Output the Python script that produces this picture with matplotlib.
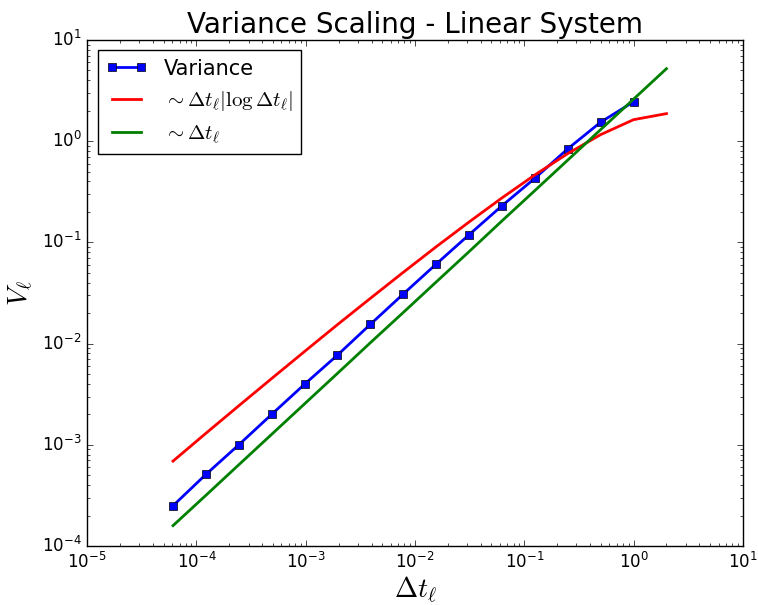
import numpy as np
import matplotlib
matplotlib.use('Agg')
from matplotlib import pyplot as plt

plt.style.use('classic')
plt.rcParams['mathtext.fontset'] = 'cm'

# time steps dt_l = 2^-l
levels = np.arange(14, -1, -1)
dt = 2.0 ** (-levels)
variance = [2.5e-4, 5.1e-4, 1.0e-3, 2.0e-3, 3.97e-3, 7.7e-3, 1.55e-2, 3.09e-2,
            6.1e-2, 0.119, 0.23, 0.43, 0.84, 1.54, 2.45]

# reference slopes go one level further (dt = 2)
dt_ref = 2.0 ** (-np.arange(14, -2, -1))
ref_log = [6.9e-4, 1.30e-3, 2.43e-3, 4.52e-3, 8.36e-3, 1.54e-2, 2.80e-2, 5.06e-2,
           9.05e-2, 0.159, 0.275, 0.464, 0.754, 1.16, 1.63, 1.87]
ref_lin = [1.59e-4, 3.17e-4, 6.35e-4, 1.27e-3, 2.54e-3, 5.08e-3, 1.02e-2, 2.03e-2,
           4.06e-2, 8.1e-2, 0.163, 0.325, 0.65, 1.3, 2.6, 5.2]

fig = plt.figure(figsize=(7.58, 6.05), dpi=100, facecolor='w')
ax = fig.add_axes([0.115, 0.0975, 0.865, 0.8365])
ax.loglog(dt, variance, 'bs-', lw=2, ms=6, label='Variance')
ax.loglog(dt_ref, ref_log, 'r-', lw=2, label=r'$\sim \Delta t_\ell |\log \Delta t_\ell|$')
ax.loglog(dt_ref, ref_lin, 'g-', lw=2, label=r'$\sim \Delta t_\ell$')
ax.set_xlim(1e-5, 1e1)
ax.set_ylim(1e-4, 1e1)
ax.set_xlabel(r'$\Delta t_\ell$', fontsize=20, labelpad=2)
ax.set_ylabel(r'$V_\ell$', fontsize=20)
ax.set_title('Variance Scaling - Linear System', fontsize=20)
ax.tick_params(labelsize=12)
ax.legend(loc='upper left', fontsize=15)

fig.savefig('out.png', dpi=100, facecolor='w')
